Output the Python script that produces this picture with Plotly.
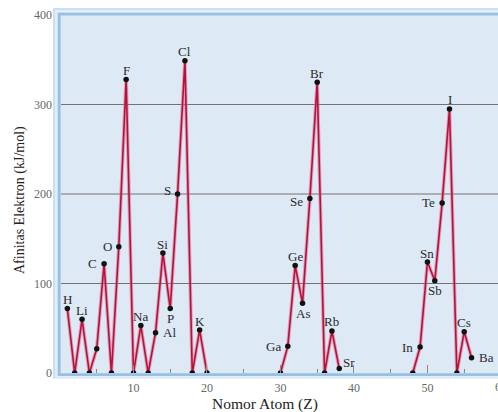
import plotly.graph_objects as go

# ---------------- data ----------------
atomic_number = [1, 2, 3, 4, 5, 6, 7, 8, 9, 10, 11, 12, 13, 14, 15, 16, 17, 18, 19, 20,
                 None,
                 30, 31, 32, 33, 34, 35, 36, 37, 38,
                 None,
                 48, 49, 50, 51, 52, 53, 54, 55, 56]
electron_affinity = [72, 0, 60, 0, 27, 122, 0, 141, 328, 0, 53, 0, 45, 134, 72, 200, 349, 0, 48, 0,
                     None,
                     0, 30, 120, 78, 195, 325, 0, 47, 5,
                     None,
                     0, 29, 124, 103, 190, 295, 0, 46, 17]

label_z = [1, 3, 6, 8, 9, 11, 13, 14, 15, 16, 17, 19,
           31, 32, 33, 34, 35, 37, 38, 49, 50, 51, 52, 53, 55, 56]
label_text = ["H", "Li", "C", "O", "F", "Na", "Al", "Si", "P", "S", "Cl", "K",
              "Ga", "Ge", "As", "Se", "Br", "Rb", "Sr", "In", "Sn", "Sb", "Te", "I", "Cs", "Ba"]
label_pos = ["above", "above", "left", "left", "above", "above", "right", "above", "below", "left", "above", "above",
             "left", "above", "below", "left", "above", "above", "right", "left", "above", "below", "left", "above", "above", "right"]

x_tick_vals = [10, 20, 30, 40, 50]
x_minor_vals = [5, 15, 25, 35, 45, 55]
y_tick_vals = [0, 100, 200, 300, 400]
grid_vals = [100, 200, 300]

X_RANGE = [0, 59.6]
Y_RANGE = [0, 400]

SERIF = "Liberation Serif, Times New Roman, serif"

FIG_W, FIG_H = 498, 412
# plot area in window pixels
PLOT_L, PLOT_T, PLOT_B = 60, 15, 373
PLOT_W = FIG_W - PLOT_L
PLOT_H = PLOT_B - PLOT_T

fig = go.Figure()

fig.add_trace(go.Scatter(
    x=atomic_number, y=electron_affinity, mode="lines",
    line=dict(color="rgba(214,110,140,0.55)", width=3.6),
    connectgaps=False, hoverinfo="skip", showlegend=False))
fig.add_trace(go.Scatter(
    x=atomic_number, y=electron_affinity, mode="lines+markers",
    line=dict(color="#bb0f3b", width=1.6),
    marker=dict(color="#111111", size=5.5),
    connectgaps=False, showlegend=False))

# element labels
lookup = {z: v for z, v in zip(atomic_number, electron_affinity) if z is not None}
shift = {
    "above": dict(xanchor="center", yanchor="middle", xshift=0, yshift=9),
    "below": dict(xanchor="center", yanchor="middle", xshift=0, yshift=-10),
    "left": dict(xanchor="right", yanchor="middle", xshift=-5, yshift=0),
    "right": dict(xanchor="left", yanchor="middle", xshift=5, yshift=0),
}
extra_y = {"S": 4, "Se": -3, "Sr": 6}
extra_x = {"Sr": -3}
for z, t, p in zip(label_z, label_text, label_pos):
    s = dict(shift[p])
    s["yshift"] += extra_y.get(t, 0)
    s["xshift"] += extra_x.get(t, 0)
    fig.add_annotation(x=z, y=lookup[z], text=t, showarrow=False,
                       font=dict(family=SERIF, size=13, color="#2b2b2b"), **s)


def px(v):
    return (v - PLOT_L) / PLOT_W


def py(v):
    return (PLOT_B - v) / PLOT_H


shapes = [
    dict(type="rect", xref="paper", yref="paper", x0=px(53), x1=1.05, y0=py(378.5), y1=py(8),
         fillcolor="#cadff1", line=dict(width=0), layer="below"),
    dict(type="rect", xref="paper", yref="paper", x0=px(56), x1=1.05, y0=py(376.8), y1=py(11),
         fillcolor="rgba(0,0,0,0)", line=dict(color="#eef5fb", width=1.3), layer="below"),
    dict(type="rect", xref="paper", yref="paper", x0=px(59.3), x1=1.05, y0=py(374.6), y1=py(14.3),
         fillcolor="#dde9f5", line=dict(color="#97c0e2", width=2.6), layer="below"),
]
for g in grid_vals:
    shapes.append(dict(type="line", xref="paper", yref="y", x0=px(61), x1=1, y0=g, y1=g,
                       line=dict(color="#727272", width=1), layer="below"))

# partial "60" tick label at the right edge
fig.add_annotation(xref="paper", yref="paper",
                   x=(60 - X_RANGE[0]) / (X_RANGE[1] - X_RANGE[0]), y=py(387),
                   text="60", showarrow=False, xanchor="center", yanchor="middle",
                   font=dict(family=SERIF, size=12, color="#666666"))

# axis titles
fig.add_annotation(xref="paper", yref="paper", x=px(265), y=py(404.5), text="Nomor Atom (Z)",
                   showarrow=False, xanchor="center", yanchor="middle",
                   font=dict(family=SERIF, size=15.5, color="#222222"))
fig.add_annotation(xref="paper", yref="paper", x=px(20), y=py(200), text="Afinitas Elektron (kJ/mol)",
                   showarrow=False, xanchor="center", yanchor="middle", textangle=-90,
                   font=dict(family=SERIF, size=14, color="#222222"))

fig.update_layout(
    width=FIG_W, height=FIG_H,
    margin=dict(l=PLOT_L, r=0, t=PLOT_T, b=FIG_H - PLOT_B, autoexpand=False),
    paper_bgcolor="white", plot_bgcolor="rgba(0,0,0,0)",
    shapes=shapes,
    xaxis=dict(range=X_RANGE, showgrid=False, zeroline=False, showline=False,
               tickmode="array", tickvals=x_tick_vals, ticks="inside", ticklen=8,
               tickcolor="#8a8a8a", tickwidth=1,
               minor=dict(tickmode="array", tickvals=x_minor_vals, ticks="inside", ticklen=4,
                          tickcolor="#8a8a8a", tickwidth=1, showgrid=False),
               tickfont=dict(family=SERIF, size=12, color="#666666"),
               ticklabelstandoff=6),
    yaxis=dict(range=Y_RANGE, showgrid=False, zeroline=False, showline=False,
               tickmode="array", tickvals=y_tick_vals, ticks="",
               tickfont=dict(family=SERIF, size=12, color="#666666"),
               ticklabelstandoff=7),
    showlegend=False,
)

fig.write_html("out.html",
               config={"displayModeBar": False},
               post_script="document.body.style.margin='0';document.body.style.overflow='hidden';")
